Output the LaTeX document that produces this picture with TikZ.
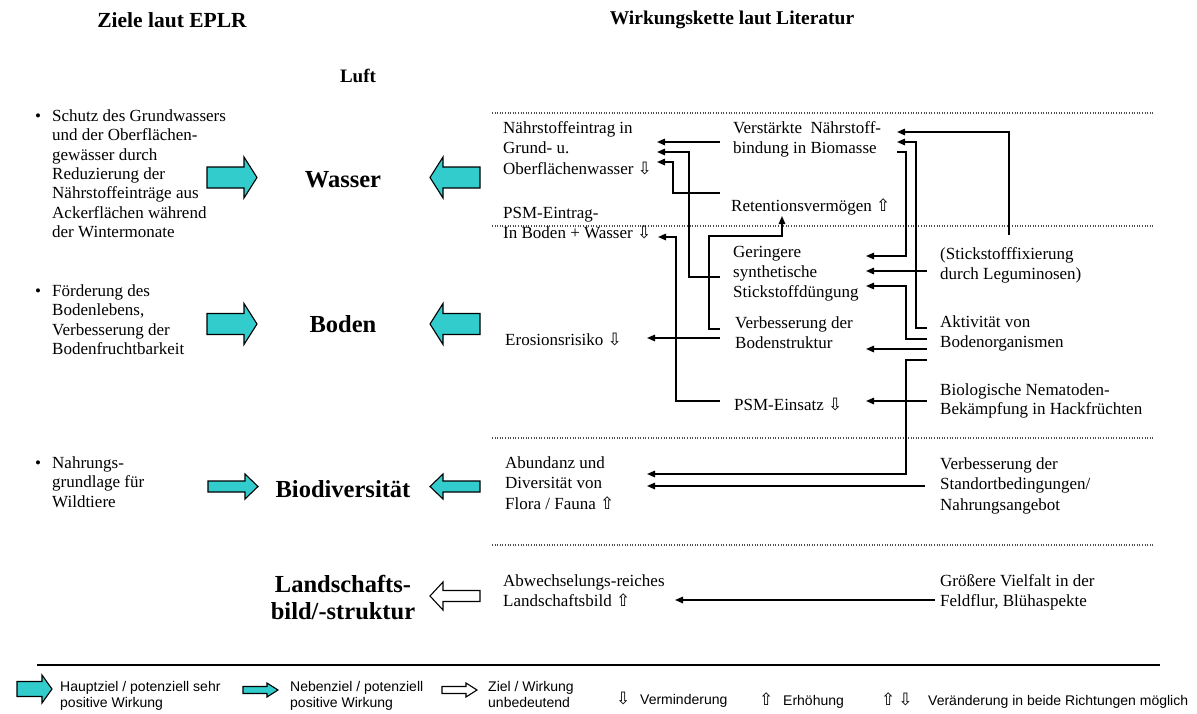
\documentclass[tikz,border=0pt]{standalone}
\usepackage{fontspec}
\setmainfont{Liberation Serif}
\setsansfont{Liberation Sans}
\newfontfamily\symfont{DejaVu Sans}
\usetikzlibrary{arrows.meta}
\definecolor{goalcyan}{RGB}{51,204,204}
\newcommand{\DownSym}{{\symfont\char"21E9}}
\newcommand{\UpSym}{{\symfont\char"21E7}}
\newcommand{\LegSym}[1]{{\fontsize{17}{16}\selectfont#1}}

\tikzset{
  body/.style={anchor=north west, inner sep=0pt, align=left,
    font=\fontsize{17}{#1}\selectfont, execute at begin node=\rule{0pt}{16.3pt}},
  body/.default=20.5,
  lbody/.style={body=19.3},
  leg/.style={anchor=north west, inner sep=0pt, align=left,
    font=\sffamily\fontsize{14}{16}\selectfont, execute at begin node=\rule{0pt}{11pt}},
  head/.style={inner sep=0pt, align=center,
    font=\fontsize{24.5}{27}\selectfont\bfseries},
  conn/.style={line width=1.5pt, line join=miter,
    -{Triangle[length=8pt,width=6.5pt]}},
  sepline/.style={line width=1.1pt, black!70, dash pattern=on 1pt off 1.6pt},
  % block arrow: fill, total length, head length, shaft half height, head half height
  pics/goalarrow/.style n args={5}{code={
    \draw[line width=1.1pt, line join=miter, fill=#1]
      (0,-#4) -- ({#2-#3},-#4) -- ({#2-#3},-#5) -- (#2,0)
      -- ({#2-#3},#5) -- ({#2-#3},#4) -- (0,#4) -- cycle;}},
}

\begin{document}
\begin{tikzpicture}[x=1pt,y=-1pt]
\useasboundingbox[fill=white] (0,0) rectangle (1197,713);

% column titles
\node[inner sep=0pt, font=\fontsize{21.5}{24}\selectfont\bfseries] (tz) at (172,20) {Ziele laut EPLR};
\node[inner sep=0pt, font=\fontsize{19.5}{24}\selectfont\bfseries] (tw) at (732,20) {Wirkungskette laut Literatur};
\node[inner sep=0pt, font=\fontsize{19}{22}\selectfont\bfseries] (luft) at (358,76) {Luft};

% goals (left column)
\node[lbody] (g1) at (52,109.5) {\llap{•\hspace{11pt}}Schutz des Grundwassers\\und der Oberflächen-\\gewässer durch\\Reduzierung der\\Nährstoffeinträge aus\\Ackerflächen während\\der Wintermonate};
\node[lbody] (g2) at (52,284.5) {\llap{•\hspace{11pt}}Förderung des\\Bodenlebens,\\Verbesserung der\\Bodenfruchtbarkeit};
\node[lbody] (g3) at (52,456.5) {\llap{•\hspace{11pt}}Nahrungs-\\grundlage für\\Wildtiere};

% protected resources
\node[head] (wasser) at (343,180) {Wasser};
\node[head] (boden) at (343,324) {Boden};
\node[head] (bio) at (343,489) {Biodiversität};
\node[head] (land) at (343,598) {Landschafts-\\bild/-struktur};

% block arrows
\pic at (207,177.5) {goalarrow={goalcyan}{50}{13}{10.5}{20.5}};
\pic[xscale=-1] at (480,177.5) {goalarrow={goalcyan}{50}{13}{10.5}{20.5}};
\pic at (207,324) {goalarrow={goalcyan}{50}{13}{10.5}{20.5}};
\pic[xscale=-1] at (480,324) {goalarrow={goalcyan}{50}{13}{10.5}{20.5}};
\pic at (208,486.5) {goalarrow={goalcyan}{50}{13}{5.5}{12.5}};
\pic[xscale=-1] at (480,486.5) {goalarrow={goalcyan}{50}{13}{5.5}{12.5}};
\pic[xscale=-1] at (480,596) {goalarrow={white}{50}{13}{5.5}{14}};

% section separators
\foreach \yy in {113,226,438,545}
  \draw[sepline] (492,\yy) -- (1155,\yy);

% effect chain texts
\node[body] (n1) at (503,121) {Nährstoffeintrag in\\Grund- u.\\Oberflächenwasser \DownSym};
\node[body] (n2) at (503,207) {PSM-Eintrag-\\In Boden + Wasser \DownSym};
\node[body] (n3) at (505,329) {Erosionsrisiko \DownSym};
\node[body] (n4) at (733,121) {Verstärkte\ \ Nährstoff-\\bindung in Biomasse};
\node[body] (n5) at (731,195) {Retentionsvermögen \UpSym};
\node[body=20] (n6) at (733,246) {Geringere\\synthetische\\Stickstoffdüngung};
\node[body] (n7) at (735,316) {Verbesserung der\\Bodenstruktur};
\node[body] (n8) at (734,394) {PSM-Einsatz \DownSym};
\node[body=20] (n9) at (940,247) {(Stickstofffixierung\\durch Leguminosen)};
\node[body] (n10) at (940,315) {Aktivität von\\Bodenorganismen};
\node[body=19.5] (n11) at (940,383) {Biologische Nematoden-\\Bekämpfung in Hackfrüchten};
\node[body] (n12) at (505,456) {Abundanz und\\Diversität von\\Flora / Fauna \UpSym};
\node[body] (n13) at (940,457) {Verbesserung der\\Standortbedingungen/\\Nahrungsangebot};
\node[body] (n14) at (503,574) {Abwechselungs-reiches\\Landschaftsbild \UpSym};
\node[body] (n15) at (940,574) {Größere Vielfalt in der\\Feldflur, Blühaspekte};

% effect chain connectors
\draw[conn] ([shift={(-13,21)}]n4.north west) -- ([shift={(154,21)}]n1.north west);
\draw[conn] ([shift={(-13,31)}]n6.north west) -- ++(-31,0) |- ([shift={(154,31)}]n1.north west);
\draw[conn] ([shift={(-11,-2)}]n5.north west) -- ++(-47,0) |- ([shift={(154,41)}]n1.north west);
\draw[conn] ([shift={(-15,13)}]n7.north west) -- ++(-11,0) -- ++(0,-93) -| ([shift={(51,21)}]n5.north west);
\draw[conn] ([shift={(-14,7)}]n8.north west) -- ++(-44,0) |- ([shift={(155,30)}]n2.north west);
\draw[conn] ([shift={(-15,22)}]n7.north west) -- ([shift={(142,9)}]n3.north west);
\draw[conn] ([shift={(69,-12)}]n9.north west) |- ([shift={(164,11)}]n4.north west);
\draw[conn] ([shift={(-13,13)}]n10.north west) -- ++(-11,0) |- ([shift={(164,21)}]n4.north west);
\draw[conn] ([shift={(164,31)}]n4.north west) -- ++(9,0) |- ([shift={(133,10)}]n6.north west);
\draw[conn] ([shift={(-13,24)}]n9.north west) -- ([shift={(133,25)}]n6.north west);
\draw[conn] ([shift={(-13,24)}]n10.north west) -- ++(-21,0) |- ([shift={(133,40)}]n6.north west);
\draw[conn] ([shift={(-13,34)}]n10.north west) -- ([shift={(131,33)}]n7.north west);
\draw[conn] ([shift={(-13,45)}]n10.north west) -- ++(-21,0) |- ([shift={(142,18)}]n12.north west);
\draw[conn] ([shift={(-13,18)}]n11.north west) -- ([shift={(132,7)}]n8.north west);
\draw[conn] ([shift={(-15,29)}]n13.north west) -- ([shift={(142,30)}]n12.north west);
\draw[conn] ([shift={(-5,26)}]n15.north west) -- ([shift={(172,26)}]n14.north west);

% legend
\draw[line width=1.2pt] (37,665) -- (1160,665);
\pic at (17,689) {goalarrow={goalcyan}{35}{10}{7.5}{14}};
\node[leg] (lg1) at (60,681) {Hauptziel / potenziell sehr\\positive Wirkung};
\pic at (243,690) {goalarrow={goalcyan}{35}{11}{3.5}{7}};
\node[leg] (lg2) at (290,681) {Nebenziel / potenziell\\positive Wirkung};
\pic at (442,690) {goalarrow={white}{35}{11}{3.5}{7}};
\node[leg] (lg3) at (488,681) {Ziel / Wirkung\\unbedeutend};
\node[leg] (lg4) at (616,692) {\makebox[24pt][l]{\LegSym{\DownSym}}Verminderung};
\node[leg] (lg5) at (759,692) {\makebox[24pt][l]{\LegSym{\UpSym}}Erhöhung};
\node[leg] (lg6) at (881,692) {\makebox[47pt][l]{\LegSym{\UpSym\,\DownSym}}Veränderung in beide Richtungen möglich};
\end{tikzpicture}
\end{document}
